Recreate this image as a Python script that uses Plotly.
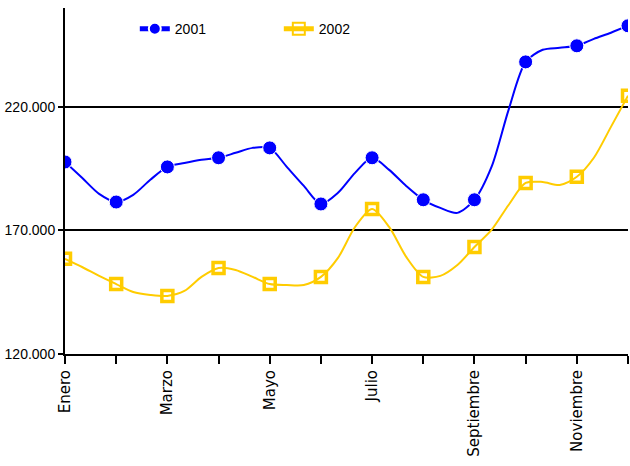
import plotly.graph_objects as go

# Months (axis categories); only every other label is printed
months = ["Enero", "Febrero", "Marzo", "Abril", "Mayo", "Junio", "Julio",
          "Agosto", "Septiembre", "Octubre", "Noviembre", "Diciembre"]

# readings every third of a month (month start = marker)
x_steps = [i / 3 for i in range(34)]

v2001 = [197700, 191300, 184800, 181500, 184400, 190500, 195700, 197300, 198600,
         199400, 201400, 203400, 203400, 195700, 188000, 180700, 185200, 193300,
         199400, 194500, 188000, 182400, 179100, 177100, 182400, 195700, 218800,
         238200, 243100, 243900, 244700, 247500, 250000, 252800]

v2002 = [158500, 155200, 151600, 148300, 145100, 143900, 143500, 145500, 151200,
         154800, 154000, 151200, 148300, 147900, 147900, 151200, 158900, 171400,
         178700, 171400, 159300, 151200, 151600, 156000, 163300, 170200, 180300,
         189200, 189600, 188400, 191700, 199400, 211900, 224500]

tick_text = [m if i % 2 == 0 else "" for i, m in enumerate(months)]

label_font = "Liberation Sans"

fig = go.Figure()

# markers only on the month points
is_month = [i % 3 == 0 for i in range(len(x_steps))]

fig.add_trace(go.Scatter(
    x=x_steps, y=v2001, name="2001", mode="lines+markers",
    line=dict(color="#0000FF", width=2, shape="spline", smoothing=0.8),
    marker=dict(symbol="circle", size=[14 if m else 0 for m in is_month],
                color="#0000FF", opacity=1),
))
fig.add_trace(go.Scatter(
    x=x_steps, y=v2002, name="2002", mode="lines+markers",
    line=dict(color="#FFCC00", width=2, shape="spline", smoothing=0.8),
    marker=dict(symbol="square-open", size=[11 if m else 0 for m in is_month],
                color="#FFCC00", opacity=1,
                line=dict(width=[3.5 if m else 0 for m in is_month], color="#FFCC00")),
))

fig.update_layout(
    width=630, height=466,
    margin=dict(l=65, r=2, t=8, b=112),
    paper_bgcolor="white", plot_bgcolor="white",
    separators=",.",
    showlegend=True,
    legend=dict(orientation="h", x=0.124, y=0.985, xanchor="left", yanchor="top",
                font=dict(family=label_font, size=14, color="black"),
                itemsizing="constant", entrywidth=99, entrywidthmode="pixels",
                bgcolor="rgba(0,0,0,0)"),
)

fig.update_xaxes(
    range=[0, 11], tickvals=list(range(12)), ticktext=tick_text,
    tickangle=-90, ticks="outside", ticklen=8, tickwidth=2, tickcolor="black",
    showline=True, linecolor="black", linewidth=2, showgrid=False, zeroline=False,
    tickfont=dict(family="DejaVu Sans", size=15, color="black"),
)

fig.update_yaxes(
    range=[120000, 260000], tick0=120000, dtick=50000, tickformat=",d",
    ticks="outside", ticklen=5, tickwidth=2, tickcolor="black",
    showline=True, linecolor="black", linewidth=2,
    showgrid=True, gridcolor="black", gridwidth=2, zeroline=False,
    tickfont=dict(family=label_font, size=14, color="black"),
)

fig.write_html("out.html", config={"displayModeBar": False},
               post_script="document.body.style.margin='0';document.body.style.overflow='hidden';")
